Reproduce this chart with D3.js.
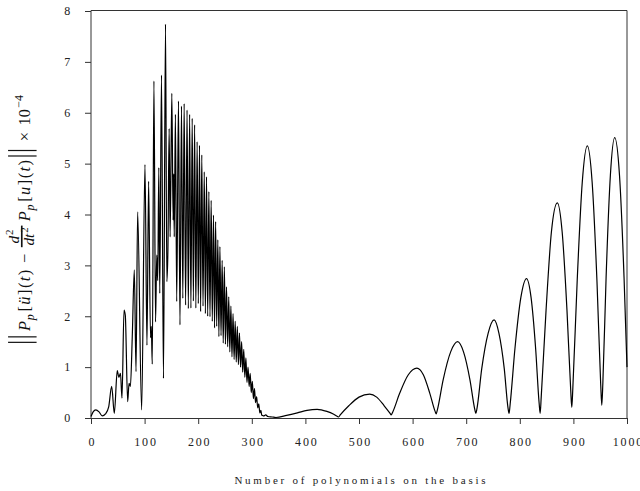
<!DOCTYPE html>
<html>
<head>
<meta charset="utf-8">
<script src="https://cdn.jsdelivr.net/npm/d3@7"></script>
<style>
  html, body { margin: 0; padding: 0; background: #fff; }
  svg { display: block; }
</style>
</head>
<body>
<script>
// ---------- data ----------
const xTicks = [0, 100, 200, 300, 400, 500, 600, 700, 800, 900, 1000];
const yTicks = [0, 1, 2, 3, 4, 5, 6, 7, 8];

// low-order region (smooth oscillations)
const basisLow = [0, 4, 9, 15, 21, 27, 33, 38.6, 43.5, 49, 52, 55, 57.8, 61.6, 64, 68.4, 71, 73.5, 77, 80.8, 84, 87, 94.5, 100.7];
const normLow  = [0.03, 0.12, 0.16, 0.12, 0.04, 0.08, 0.22, 0.62, 0.09, 0.93, 0.80, 0.88, 0.39, 2.12, 2.02, 0.32, 0.68, 0.62, 1.60, 2.91, 0.91, 4.05, 0.16, 4.98];

// burst region (fast oscillations)
const basisBurst = [104.4, 107.5, 111, 112.5, 114.3, 117.4, 120.4, 122.7, 124.5, 126.5, 128.3, 131.5, 135.2, 139, 141.5, 143.5, 145.8, 147.6, 150.8, 153.2, 154.3, 155.3, 157.5, 159.9,
  163.2, 166, 168.8, 171.3, 173.8, 176.5, 179.2, 181.6, 184, 186.4, 188.8, 191, 193.3, 195.6, 198, 200.2, 202.4, 204.5, 206.7, 209, 211.3, 213.4, 215.5, 217.7, 219.9, 222,
  224.2, 226.3, 228.5, 230.5, 232.5, 234.5, 236.6, 238.6, 240.5, 242.6, 244.7, 246.7, 248.8, 250.8, 252.8, 255, 257, 259, 261, 263, 265, 267, 269, 271, 273, 275, 277, 279,
  281, 283, 285, 287, 289, 291, 293, 295, 297, 299, 301, 303, 305, 307, 309, 311, 313, 315, 317, 318.5, 320];
const normBurst  = [1.43, 4.65, 1.58, 1.80, 1.06, 6.62, 1.89, 3.20, 2.70, 4.92, 2.45, 6.74, 0.78, 7.74, 2.68, 3.30, 5.69, 3.56, 6.38, 3.89, 4.80, 3.56, 5.97, 2.29,
  6.23, 1.83, 6.13, 2.35, 6.18, 2.22, 6.05, 2.15, 5.97, 2.16, 5.89, 2.30, 5.76, 2.16, 5.43, 2.25, 5.36, 2.09, 5.17, 2.20, 4.84, 2.05, 4.74, 2.00, 4.45, 1.99,
  4.28, 1.90, 3.99, 1.77, 3.86, 1.80, 3.50, 1.60, 3.37, 1.62, 3.10, 1.47, 2.97, 1.45, 2.58, 1.40, 2.38, 1.30, 2.20, 1.20, 2.05, 1.15, 1.90, 1.10, 1.80, 1.05, 1.67, 1.00,
  1.50, 0.90, 1.35, 0.80, 1.18, 0.70, 1.00, 0.62, 0.88, 0.50, 0.72, 0.38, 0.58, 0.30, 0.42, 0.20, 0.28, 0.10, 0.15, 0.05, 0.05];

// high-order region (growing arches)
const basisTail = [322, 326, 330, 338, 345, 365, 385, 403, 422, 440, 452, 460, 462,
  465, 481, 500, 520, 533, 547, 558, 560,
  563, 576, 592, 608, 620, 632, 642, 644,
  646, 657, 671, 684, 695, 707, 716, 718,
  720, 729, 741, 752, 761, 771, 778, 780,
  782, 791, 802, 812.5, 821, 829.5, 836, 838,
  840, 849, 859, 870, 879, 888, 895, 897,
  899, 907, 916.5, 926, 935, 944, 951, 953,
  955, 961, 969, 977, 986, 994.5, 1000];
const normTail  = [0.04, 0.06, 0.03, 0.02, 0.01, 0.05, 0.10, 0.15, 0.17, 0.13, 0.08, 0.03, 0.02,
  0.06, 0.24, 0.41, 0.47, 0.41, 0.24, 0.09, 0.06,
  0.12, 0.49, 0.85, 0.98, 0.85, 0.49, 0.13, 0.08,
  0.15, 0.75, 1.30, 1.50, 1.30, 0.75, 0.17, 0.09,
  0.18, 0.97, 1.67, 1.93, 1.67, 0.97, 0.20, 0.09,
  0.27, 1.37, 2.37, 2.74, 2.37, 1.37, 0.30, 0.09,
  0.42, 2.12, 3.66, 4.23, 3.66, 2.12, 0.55, 0.21,
  0.60, 2.68, 4.63, 5.35, 4.63, 2.68, 0.65, 0.25,
  0.70, 2.76, 4.77, 5.51, 4.77, 2.76, 1.00];

// ---------- chart ----------
const W = 640, H = 491;
const mLeft = 91, mRight = 627, mTop = 11, mBottom = 418;
const FONT = "'Liberation Serif', 'DejaVu Serif', serif";

const svg = d3.select("body").append("svg").attr("width", W).attr("height", H);

const x = d3.scaleLinear().domain([0, 1000]).range([mLeft, mRight]);
const y = d3.scaleLinear().domain([0, 8]).range([mBottom, mTop]);

const pts = [];
basisLow.forEach((n, i) => pts.push([n, normLow[i]]));
basisBurst.forEach((n, i) => pts.push([n, normBurst[i]]));
basisTail.forEach((n, i) => pts.push([n, normTail[i]]));

// axes
const gx = svg.append("g").attr("transform", `translate(0,${mBottom})`)
  .call(d3.axisBottom(x).tickValues(xTicks).tickSize(6).tickSizeOuter(0).tickPadding(13).tickFormat(d3.format("d")));
const gy = svg.append("g").attr("transform", `translate(${mLeft},0)`)
  .call(d3.axisLeft(y).tickValues(yTicks).tickSize(6).tickSizeOuter(0).tickPadding(13).tickFormat(d3.format("d")));
[gx, gy].forEach(g => {
  g.select(".domain").remove();
  g.selectAll(".tick line").attr("stroke", "#333");
  g.selectAll(".tick text").attr("fill", "#222").style("font-family", FONT).style("font-size", "12px")
    .style("letter-spacing", "1.8px");
});
gx.selectAll(".tick text").attr("dx", "0.9px");

// frame
const frame = svg.append("g").attr("stroke", "#333").attr("stroke-width", 1).attr("fill", "none");
frame.append("line").attr("x1", mLeft).attr("x2", mLeft).attr("y1", mTop - 0.5).attr("y2", mBottom + 0.5);
frame.append("line").attr("x1", mRight).attr("x2", mRight).attr("y1", mTop - 0.5).attr("y2", mBottom + 0.5);
frame.append("line").attr("x1", mLeft).attr("x2", mRight).attr("y1", mTop - 0.5).attr("y2", mTop - 0.5);
frame.append("line").attr("x1", mLeft).attr("x2", mRight).attr("y1", mBottom + 0.5).attr("y2", mBottom + 0.5);

// data line
const line = d3.line().x(d => x(d[0])).y(d => y(d[1])).curve(d3.curveMonotoneX);
svg.append("path").datum(pts).attr("d", line)
  .attr("fill", "none").attr("stroke", "#000").attr("stroke-width", 1.2).attr("stroke-linejoin", "round");

// x label
const xl = svg.append("text").attr("x", 360).attr("y", 484).attr("text-anchor", "middle")
  .attr("fill", "#222").style("font-family", FONT).style("font-size", "11px")
  .text("Number of polynomials on the basis");
const w0 = xl.node().getComputedTextLength();
const ls = (254 - w0) / 34;
xl.style("letter-spacing", ls + "px").attr("dx", ls / 2);

// y label (rotated math expression)
const yl = svg.append("g");
let cx = 0;
const FS = 15;
function put(str, opts = {}) {
  const t = yl.append("text").attr("x", cx).attr("y", opts.dy || 0)
    .attr("fill", "#111").style("font-family", FONT)
    .style("font-size", (opts.fs || FS) + "px")
    .style("font-style", opts.it ? "italic" : "normal")
    .text(str);
  cx += t.node().getComputedTextLength() + (opts.gap === undefined ? 1.3 : opts.gap);
  return t;
}
function normBars() {
  [0, 5].forEach(o => {
    yl.append("line").attr("x1", cx + o + 0.6).attr("x2", cx + o + 0.6).attr("y1", -20).attr("y2", 6)
      .attr("stroke", "#111").attr("stroke-width", 1.1);
  });
  cx += 9;
}
function fraction() {
  const g0 = cx;
  const num = yl.append("g");
  const n1 = num.append("text").attr("y", -10).style("font-family", FONT).style("font-size", "14px").style("font-style", "italic").attr("fill", "#111").text("d");
  const n1w = n1.node().getComputedTextLength();
  const n2 = num.append("text").attr("x", n1w + 0.8).attr("y", -15.5).style("font-family", FONT).style("font-size", "10px").attr("fill", "#111").text("2");
  const nw = n1w + 0.8 + n2.node().getComputedTextLength();
  const den = yl.append("g");
  const d1 = den.append("text").attr("y", 4).style("font-family", FONT).style("font-size", "14px").style("font-style", "italic").attr("fill", "#111").text("dt");
  const d1w = d1.node().getComputedTextLength();
  const d2 = den.append("text").attr("x", d1w + 0.8).attr("y", -1.5).style("font-family", FONT).style("font-size", "10px").attr("fill", "#111").text("2");
  const dw = d1w + 0.8 + d2.node().getComputedTextLength();
  const fw = Math.max(nw, dw) + 3;
  num.attr("transform", `translate(${g0 + (fw - nw) / 2},0)`);
  den.attr("transform", `translate(${g0 + (fw - dw) / 2},0)`);
  yl.append("line").attr("x1", g0).attr("x2", g0 + fw).attr("y1", -7.5).attr("y2", -7.5)
    .attr("stroke", "#111").attr("stroke-width", 1.5);
  cx += fw + 4;
}
normBars();
cx += 2;
put("P", { it: true, gap: 0.5 });
put("p", { it: true, fs: 11, dy: 3.5, gap: 2.5 });
put("[");
put("ü", { it: true });
put("]");
put("(");
put("t", { it: true });
put(")", { gap: 6 });
put("−", { gap: 6 });
fraction();
put("P", { it: true, gap: 0.5 });
put("p", { it: true, fs: 11, dy: 3.5, gap: 2.5 });
put("[");
put("u", { it: true });
put("]");
put("(");
put("t", { it: true });
put(")", { gap: 3 });
normBars();
cx += 5;
put("×", { gap: 6 });
put("10", { gap: 1 });
put("−4", { fs: 11, dy: -6.5, gap: 0 });
const total = cx;
const sc = Math.min(1.15, 248 / total);
yl.attr("transform", `translate(30,${219 + total * sc / 2}) rotate(-90) scale(${sc})`);
</script>
</body>
</html>
